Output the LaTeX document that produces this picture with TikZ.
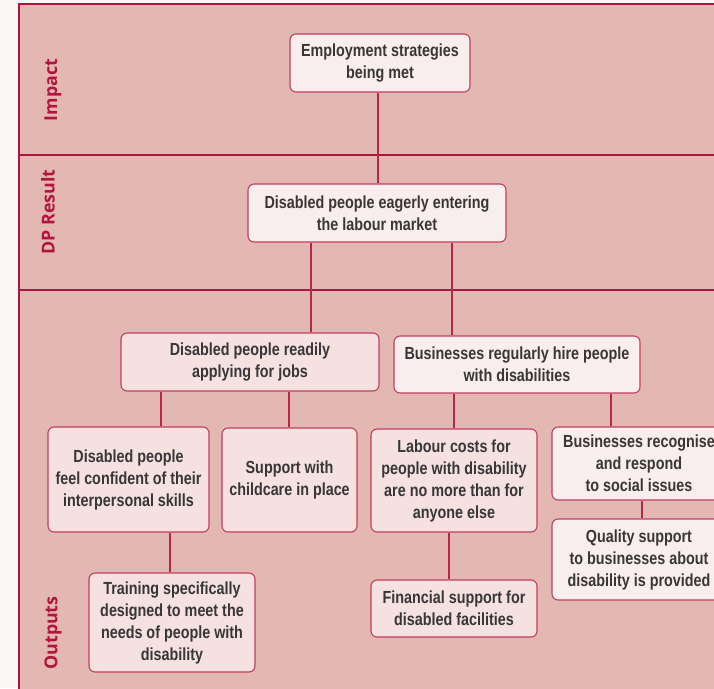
\documentclass[tikz,border=0pt]{standalone}
\usepackage{fontspec}
\setmainfont{Liberation Sans}
\newfontfamily\boxfont[FakeStretch=0.82]{Liberation Sans}
\newfontfamily\bandfont{Open Sans}
\definecolor{paper}{HTML}{FAF8F6}
\definecolor{band}{HTML}{E4B8B2}
\definecolor{frame}{HTML}{AC163E}
\definecolor{edge}{HTML}{C23E5E}
\definecolor{wire}{HTML}{B8264C}
\definecolor{boxlight}{HTML}{F9EEEE}
\definecolor{boxpink}{HTML}{F4E1E0}
\definecolor{ink}{HTML}{383636}
\definecolor{bandtext}{HTML}{B3143F}
\tikzset{
  card/.style={draw=edge, line width=1.1pt, rounded corners=6pt, align=center,
    inner sep=1pt, text=ink, font=\boxfont\bfseries\fontsize{17.5}{22}\selectfont},
  lightcard/.style={card, fill=boxlight},
  pinkcard/.style={card, fill=boxpink},
  wiring/.style={draw=wire, line width=1.6pt},
  bandlabel/.style={rotate=90, text=bandtext, font=\bandfont\bfseries\fontsize{17.8}{20}\selectfont},
  divider/.style={draw=frame, line width=1.6pt}
}
\begin{document}
\begin{tikzpicture}[x=1pt, y=-1pt]
\useasboundingbox (0,0) rectangle (714,688);
\clip (0,0) rectangle (714,688);
\fill[paper] (0,0) rectangle (714,688);
% framed bands
\fill[band] (19,4) rectangle (720,700);
\draw[divider] (19,700) -- (19,4) -- (720,4);
\draw[divider] (19,155) -- (720,155);
\draw[divider] (19,290) -- (720,290);
% band titles
\node[bandlabel] (limpact) at (53,90) {Impact};
\node[bandlabel] (lresult) at (48,212) {DP Result};
\node[bandlabel] (loutputs) at (53,633) {Outputs};
% boxes
\node[lightcard, minimum width=180pt, minimum height=58pt] (imp) at (380,63)
  {Employment strategies\\being met};
\node[lightcard, minimum width=258pt, minimum height=58pt] (dp) at (377,213)
  {Disabled people eagerly entering\\the labour market};
\node[pinkcard, minimum width=258pt, minimum height=58pt] (ready) at (250,362)
  {Disabled people readily\\applying for jobs};
\node[lightcard, minimum width=246pt, minimum height=57pt] (hire) at (517,364.5)
  {Businesses regularly hire people\\with disabilities};
\node[pinkcard, minimum width=161pt, minimum height=105pt] (conf) at (128.5,479.5)
  {Disabled people\\feel confident of their\\interpersonal skills};
\node[pinkcard, minimum width=135pt, minimum height=104pt] (child) at (289.5,480)
  {Support with\\childcare in place};
\node[pinkcard, minimum width=166pt, minimum height=103pt] (labour) at (454,480.5)
  {Labour costs for\\people with disability\\are no more than for\\anyone else};
\node[lightcard, minimum width=174pt, minimum height=73pt] (recog) at (639,463.5)
  {Businesses recognise\\and respond\\to social issues};
\node[lightcard, minimum width=174pt, minimum height=81pt] (quality) at (639,559.5)
  {Quality support\\to businesses about\\disability is provided};
\node[pinkcard, minimum width=166pt, minimum height=99pt] (train) at (172,622.5)
  {Training specifically\\designed to meet the\\needs of people with\\disability};
\node[pinkcard, minimum width=166pt, minimum height=57pt] (fin) at (454,608.5)
  {Financial support for\\disabled facilities};
% connectors
\draw[wiring] ([xshift=-2pt]imp.south) -- ([xshift=-2pt]imp.south |- dp.north);
\draw[wiring] ([xshift=-66pt]dp.south) -- ([xshift=-66pt]dp.south |- ready.north);
\draw[wiring] ([xshift=75pt]dp.south) -- ([xshift=75pt]dp.south |- hire.north);
\draw[wiring] ([xshift=-89pt]ready.south) -- ([xshift=-89pt]ready.south |- conf.north);
\draw[wiring] ([xshift=39pt]ready.south) -- ([xshift=39pt]ready.south |- child.north);
\draw[wiring] ([xshift=-63pt]hire.south) -- ([xshift=-63pt]hire.south |- labour.north);
\draw[wiring] ([xshift=94pt]hire.south) -- ([xshift=94pt]hire.south |- recog.north);
\draw[wiring] ([xshift=41.5pt]conf.south) -- ([xshift=41.5pt]conf.south |- train.north);
\draw[wiring] ([xshift=-5pt]labour.south) -- ([xshift=-5pt]labour.south |- fin.north);
\draw[wiring] ([xshift=3pt]recog.south) -- ([xshift=3pt]recog.south |- quality.north);
\end{tikzpicture}
\end{document}
